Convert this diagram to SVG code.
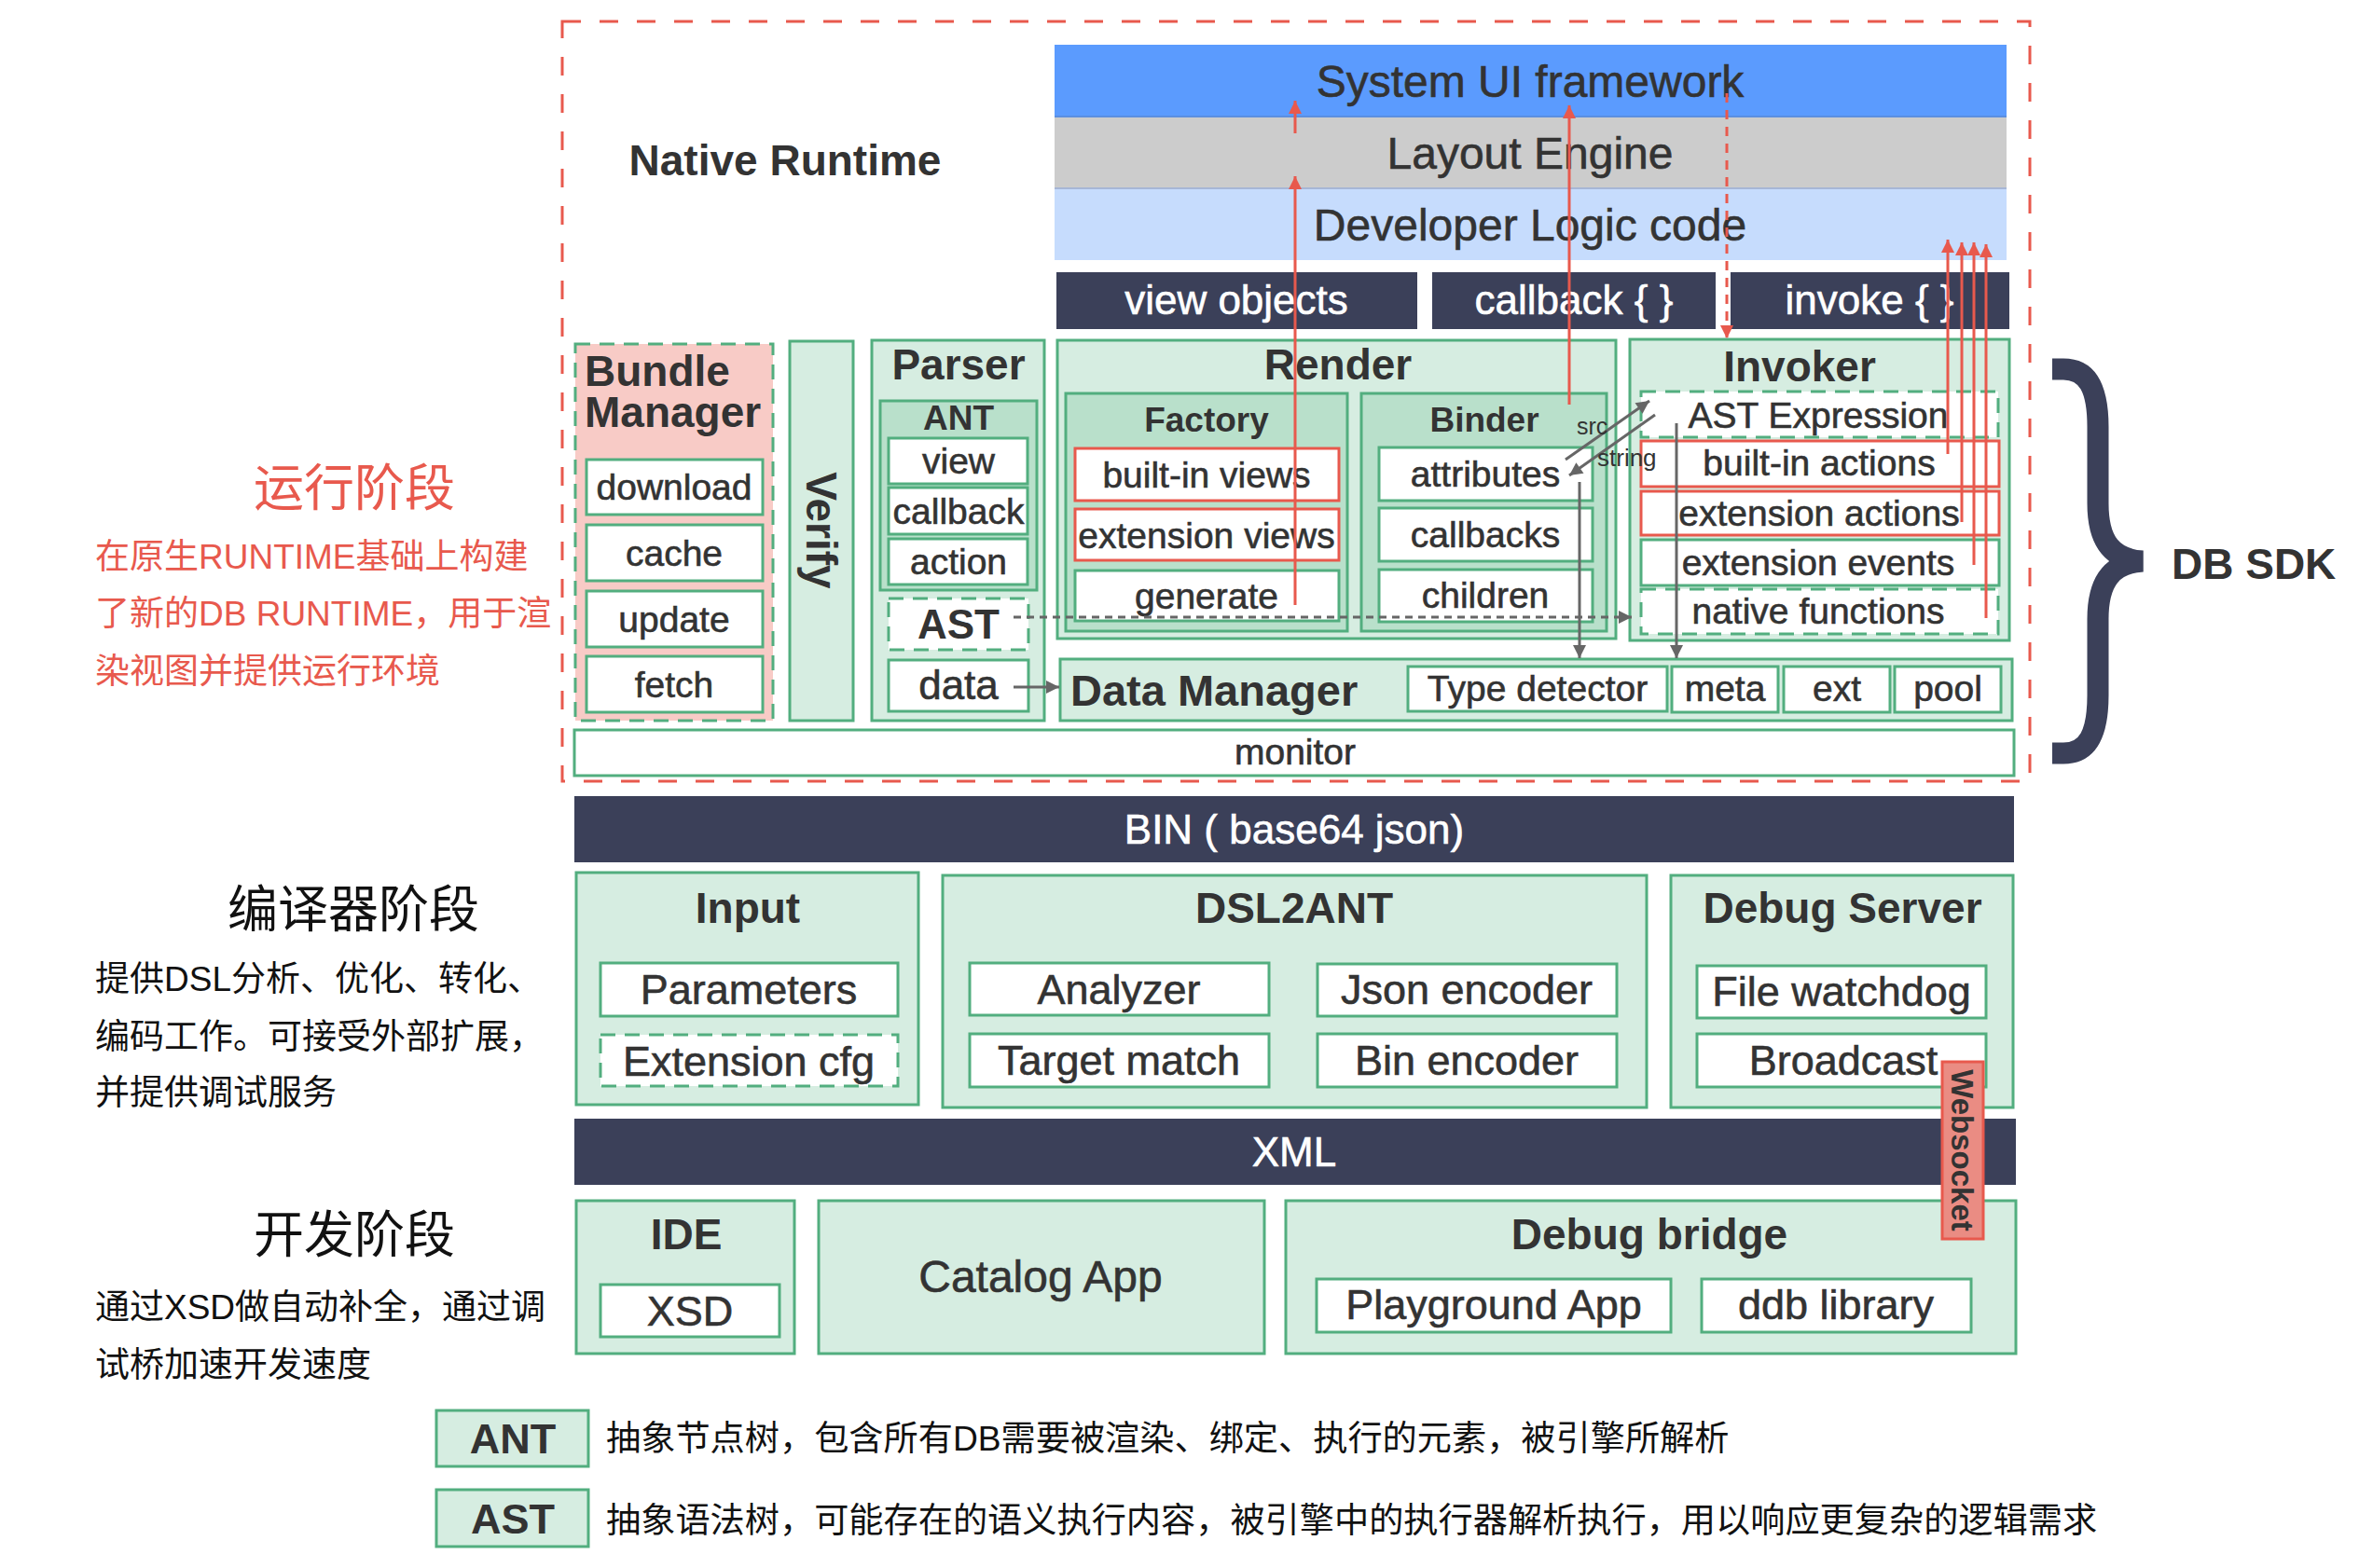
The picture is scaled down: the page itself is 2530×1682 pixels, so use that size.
<svg xmlns="http://www.w3.org/2000/svg" width="2530" height="1682" viewBox="0 0 2530 1682">
<defs>
<style>
text { font-family: "Liberation Sans", Arial, sans-serif; fill: #333; }
.c { text-anchor: middle; }
.m { stroke: #333; stroke-width: 0.6px; }
.t39 { font-size: 39px; stroke: #333; stroke-width: 0.6px; }
.t45 { font-size: 45px; stroke: #333; stroke-width: 0.6px; }
.h { font-size: 46px; font-weight: bold; }
.h37 { font-size: 37px; font-weight: bold; }
.wt { fill: #fff; font-size: 44px; text-anchor: middle; stroke: #fff; stroke-width: 0.6px; }
.top { font-size: 48px; text-anchor: middle; stroke: #333; stroke-width: 0.6px; }
.cjk { font-family: "Liberation Sans", "Noto Sans CJK SC", sans-serif; }
.red { fill: #e8594d; }
.blk { fill: #111; }
.g { fill: #d6ede1; stroke: #52ae7f; stroke-width: 3; }
.gd { fill: #b9e0cb; stroke: #52ae7f; stroke-width: 3; }
.w { fill: #fff; stroke: #52ae7f; stroke-width: 3; }
.wd { fill: #fff; stroke: #52ae7f; stroke-width: 3; stroke-dasharray: 16 10; }
.wr { fill: #fff; stroke: #e8594d; stroke-width: 3; }
.bar { fill: #3b4059; }
.ra { stroke: #e8594d; stroke-width: 3; fill: none; marker-end: url(#ar); }
.ga { stroke: #666; stroke-width: 3; fill: none; marker-end: url(#ag); }
</style>
<marker id="ar" viewBox="0 0 10 10" refX="10" refY="5" markerWidth="15" markerHeight="14" markerUnits="userSpaceOnUse" orient="auto">
<path d="M0,0 L10,5 L0,10 z" fill="#e8594d"/>
</marker>
<marker id="ag" viewBox="0 0 10 10" refX="10" refY="5" markerWidth="15" markerHeight="14" markerUnits="userSpaceOnUse" orient="auto">
<path d="M0,0 L10,5 L0,10 z" fill="#666"/>
</marker>
</defs>
<rect width="2530" height="1682" fill="#fff"/>

<!-- left descriptions -->
<g id="phase-runtime">
<text class="cjk red c" x="380" y="543" font-size="54">运行阶段</text>
<text class="cjk red" x="102" y="610" font-size="37">在原生RUNTIME基础上构建</text>
<text class="cjk red" x="102" y="671" font-size="37">了新的DB RUNTIME，用于渲</text>
<text class="cjk red" x="102" y="733" font-size="37">染视图并提供运行环境</text>
</g>
<g id="phase-compiler">
<text class="cjk blk c" x="379" y="995" font-size="54">编译器阶段</text>
<text class="cjk blk" x="102" y="1063" font-size="37">提供DSL分析、优化、转化、</text>
<text class="cjk blk" x="102" y="1125" font-size="37">编码工作。可接受外部扩展，</text>
<text class="cjk blk" x="102" y="1185" font-size="37">并提供调试服务</text>
</g>
<g id="phase-dev">
<text class="cjk blk c" x="380" y="1344" font-size="54">开发阶段</text>
<text class="cjk blk" x="102" y="1415" font-size="37">通过XSD做自动补全，通过调</text>
<text class="cjk blk" x="102" y="1477" font-size="37">试桥加速开发速度</text>
</g>

<!-- native runtime frame -->
<g id="native-runtime">
<rect x="603" y="23" width="1574" height="815" fill="none" stroke="#e8594d" stroke-width="3" stroke-dasharray="20 20"/>
<text class="h c" x="842" y="188">Native Runtime</text>
</g>

<g id="system-ui"><rect x="1131" y="48" width="1021" height="77" fill="#5b9bfe"/><text class="top" x="1641" y="104">System UI framework</text></g>
<g id="layout-engine"><rect x="1131" y="125" width="1021" height="77" fill="#cccccc"/><line x1="1131" y1="125" x2="2152" y2="125" stroke="#5b8fe0" stroke-width="2"/><text class="top" x="1641" y="181">Layout Engine</text></g>
<g id="developer-logic"><rect x="1131" y="202" width="1021" height="77" fill="#c6dcfd"/><line x1="1131" y1="202" x2="2152" y2="202" stroke="#a7b6d6" stroke-width="2"/><text class="top" x="1641" y="258">Developer Logic code</text></g>

<g id="view-objects"><rect class="bar" x="1133" y="292" width="387" height="61"/><text class="wt" x="1326" y="337">view objects</text></g>
<g id="callback-bar"><rect class="bar" x="1536" y="292" width="304" height="61"/><text class="wt" x="1688" y="337">callback { }</text></g>
<g id="invoke-bar"><rect class="bar" x="1856" y="292" width="299" height="61"/><text class="wt" x="2005" y="337">invoke { }</text></g>

<g id="bundle-manager">
<rect x="617" y="369" width="212" height="404" fill="#f8cbc6" stroke="#52ae7f" stroke-width="3" stroke-dasharray="16 10"/>
<text class="h" x="627" y="414" font-size="45">Bundle</text>
<text class="h" x="627" y="458" font-size="45">Manager</text>
<rect class="w" x="629" y="493" width="189" height="59"/><text class="t39 c" x="723" y="536">download</text>
<rect class="w" x="629" y="563" width="189" height="60"/><text class="t39 c" x="723" y="607">cache</text>
<rect class="w" x="629" y="634" width="189" height="60"/><text class="t39 c" x="723" y="678">update</text>
<rect class="w" x="629" y="704" width="189" height="60"/><text class="t39 c" x="723" y="748">fetch</text>
</g>

<g id="verify">
<rect class="g" x="847" y="366" width="68" height="407"/>
<text class="h c" transform="translate(881,569) rotate(90)" x="0" y="16">Verify</text>
</g>

<g id="parser">
<rect class="g" x="935" y="365" width="185" height="408"/>
<text class="h c" x="1028" y="407">Parser</text>
<rect class="gd" x="944" y="430" width="168" height="203"/>
<text class="h37 c" x="1028" y="461">ANT</text>
<rect class="w" x="953" y="470" width="149" height="49"/><text class="t39 c" x="1028" y="508">view</text>
<rect class="w" x="953" y="523" width="149" height="50"/><text class="t39 c" x="1028" y="562">callback</text>
<rect class="w" x="953" y="578" width="149" height="49"/><text class="t39 c" x="1028" y="616">action</text>
<rect class="wd" x="953" y="642" width="150" height="55"/><text class="c" x="1028" y="685" font-size="44" font-weight="bold">AST</text>
<rect class="w" x="953" y="708" width="150" height="55"/><text class="c m" x="1028" y="750" font-size="44">data</text>
</g>

<g id="render">
<rect class="g" x="1134" y="365" width="599" height="320"/>
<text class="h c" x="1435" y="407">Render</text>
<rect class="gd" x="1143" y="422" width="302" height="255"/>
<text class="h37 c" x="1294" y="463">Factory</text>
<rect class="wr" x="1153" y="481" width="283" height="56"/><text class="t39 c" x="1294" y="523">built-in views</text>
<rect class="wr" x="1153" y="546" width="283" height="55"/><text class="t39 c" x="1294" y="588">extension views</text>
<rect class="w" x="1153" y="612" width="283" height="54"/><text class="t39 c" x="1294" y="653">generate</text>
<rect class="gd" x="1460" y="422" width="263" height="255"/>
<text class="h37 c" x="1592" y="463">Binder</text>
<rect class="w" x="1479" y="480" width="229" height="57"/><text class="t39 c" x="1593" y="522">attributes</text>
<rect class="w" x="1479" y="545" width="229" height="57"/><text class="t39 c" x="1593" y="587">callbacks</text>
<rect class="w" x="1479" y="611" width="229" height="56"/><text class="t39 c" x="1593" y="652">children</text>
</g>

<g id="invoker">
<rect class="g" x="1748" y="364" width="407" height="323"/>
<text class="h c" x="1930" y="409">Invoker</text>
<rect class="wd" x="1760" y="420" width="383" height="49"/><text class="t39 c" x="1950" y="459">AST Expression</text>
<rect class="wr" x="1760" y="473" width="384" height="49"/><text class="t39 c" x="1951" y="510">built-in actions</text>
<rect class="wr" x="1760" y="527" width="384" height="47"/><text class="t39 c" x="1951" y="564">extension actions</text>
<rect class="w" x="1760" y="579" width="384" height="49"/><text class="t39 c" x="1950" y="617">extension events</text>
<rect class="wd" x="1760" y="632" width="383" height="48"/><text class="t39 c" x="1950" y="669">native functions</text>
</g>

<g id="data-manager">
<rect class="g" x="1137" y="707" width="1021" height="66"/>
<text x="1148" y="757" font-size="47" font-weight="bold">Data Manager</text>
<rect class="w" x="1510" y="715" width="278" height="48"/><text class="t39 c" x="1649" y="752">Type detector</text>
<rect class="w" x="1793" y="715" width="114" height="49"/><text class="t39 c" x="1850" y="752">meta</text>
<rect class="w" x="1913" y="715" width="114" height="49"/><text class="t39 c" x="1970" y="752">ext</text>
<rect class="w" x="2032" y="715" width="114" height="49"/><text class="t39 c" x="2089" y="752">pool</text>
</g>

<g id="monitor">
<rect class="w" x="616" y="783" width="1544" height="49"/>
<text class="t39 c" x="1389" y="820">monitor</text>
</g>

<g id="db-sdk">
<path d="M2201,396 L2213,396 C2240,396 2250,418 2250,458 L2250,540 C2250,582 2266,600 2298,602 C2266,604 2250,622 2250,664 L2250,746 C2250,786 2240,808 2213,808 L2201,808" fill="none" stroke="#3b4059" stroke-width="23"/>
<text x="2329" y="621" font-size="46" font-weight="bold">DB SDK</text>
</g>

<g id="connectors">
<line class="ga" x1="1087" y1="737" x2="1136" y2="737"/>
<line class="ga" x1="1087" y1="662" x2="1750" y2="662" stroke-dasharray="8 6"/>
<line class="ga" x1="1694" y1="517" x2="1694" y2="706"/>
<line class="ga" x1="1798" y1="454" x2="1798" y2="706"/>
<line class="ga" x1="1679" y1="493" x2="1769" y2="430"/>
<line class="ga" x1="1775" y1="445" x2="1683" y2="510"/>
<text x="1691" y="466" font-size="25" fill="#111">src</text>
<text x="1713" y="500" font-size="26" fill="#111">string</text>
<line class="ra" x1="1389" y1="649" x2="1389" y2="189"/>
<line class="ra" x1="1389" y1="143" x2="1389" y2="108"/>
<line class="ra" x1="1683" y1="434" x2="1683" y2="113"/>
<line class="ra" x1="1852" y1="100" x2="1852" y2="363" stroke-dasharray="10 8"/>
<line class="ra" x1="2089" y1="487" x2="2089" y2="257"/>
<line class="ra" x1="2104" y1="560" x2="2104" y2="260"/>
<line class="ra" x1="2117" y1="606" x2="2117" y2="260"/>
<line class="ra" x1="2130" y1="663" x2="2130" y2="262"/>
</g>

<g id="bin"><rect class="bar" x="616" y="854" width="1544" height="71"/><text class="wt" x="1388" y="905">BIN ( base64 json)</text></g>

<g id="input">
<rect class="g" x="618" y="936" width="367" height="249"/>
<text class="h c" x="802" y="990">Input</text>
<rect class="w" x="644" y="1033" width="319" height="57"/><text class="t45 c" x="803" y="1077">Parameters</text>
<rect class="wd" x="644" y="1110" width="319" height="55"/><text class="t45 c" x="803" y="1154">Extension cfg</text>
</g>

<g id="dsl2ant">
<rect class="g" x="1011" y="939" width="755" height="249"/>
<text class="h c" x="1388" y="990">DSL2ANT</text>
<rect class="w" x="1040" y="1033" width="321" height="56"/><text class="t45 c" x="1200" y="1077">Analyzer</text>
<rect class="w" x="1413" y="1034" width="321" height="56"/><text class="t45 c" x="1573" y="1077">Json encoder</text>
<rect class="w" x="1040" y="1109" width="321" height="57"/><text class="t45 c" x="1200" y="1153">Target match</text>
<rect class="w" x="1413" y="1109" width="321" height="57"/><text class="t45 c" x="1573" y="1153">Bin encoder</text>
</g>

<g id="debug-server">
<rect class="g" x="1792" y="939" width="367" height="249"/>
<text class="h c" x="1976" y="990">Debug Server</text>
<rect class="w" x="1820" y="1036" width="310" height="56"/><text class="t45 c" x="1975" y="1079">File watchdog</text>
<rect class="w" x="1820" y="1109" width="310" height="57"/><text class="t45 c" x="1977" y="1153">Broadcast</text>
</g>

<g id="xml"><rect class="bar" x="616" y="1200" width="1546" height="71"/><text class="wt" x="1388" y="1251">XML</text></g>

<g id="ide">
<rect class="g" x="618" y="1288" width="234" height="164"/>
<text class="h c" x="736" y="1340">IDE</text>
<rect class="w" x="644" y="1378" width="192" height="56"/><text class="t45 c" x="740" y="1422">XSD</text>
</g>

<g id="catalog-app">
<rect class="g" x="878" y="1288" width="478" height="164"/>
<text class="c m" x="1116" y="1386" font-size="48">Catalog App</text>
</g>

<g id="debug-bridge">
<rect class="g" x="1379" y="1288" width="783" height="164"/>
<text class="h c" x="1769" y="1340">Debug bridge</text>
<rect class="w" x="1412" y="1372" width="380" height="57"/><text class="t45 c" x="1602" y="1415">Playground App</text>
<rect class="w" x="1825" y="1372" width="289" height="57"/><text class="t45 c" x="1969" y="1415">ddb library</text>
</g>

<g id="websocket">
<rect x="2083" y="1139" width="44" height="190" fill="#ea8c83" stroke="#e8594d" stroke-width="3"/>
<text class="c" transform="translate(2105,1234) rotate(90)" x="0" y="12" font-size="33" font-weight="bold" fill="#fff">Websocket</text>
</g>

<g id="legend-ant">
<rect class="g" x="468" y="1513" width="163" height="60"/>
<text class="c" x="550" y="1559" font-size="45" font-weight="bold">ANT</text>
<text class="cjk blk" x="650" y="1556" font-size="37.2">抽象节点树，包含所有DB需要被渲染、绑定、执行的元素，被引擎所解析</text>
</g>
<g id="legend-ast">
<rect class="g" x="468" y="1598" width="163" height="61"/>
<text class="c" x="550" y="1645" font-size="45" font-weight="bold">AST</text>
<text class="cjk blk" x="650" y="1644" font-size="37.2">抽象语法树，可能存在的语义执行内容，被引擎中的执行器解析执行，用以响应更复杂的逻辑需求</text>
</g>
</svg>
